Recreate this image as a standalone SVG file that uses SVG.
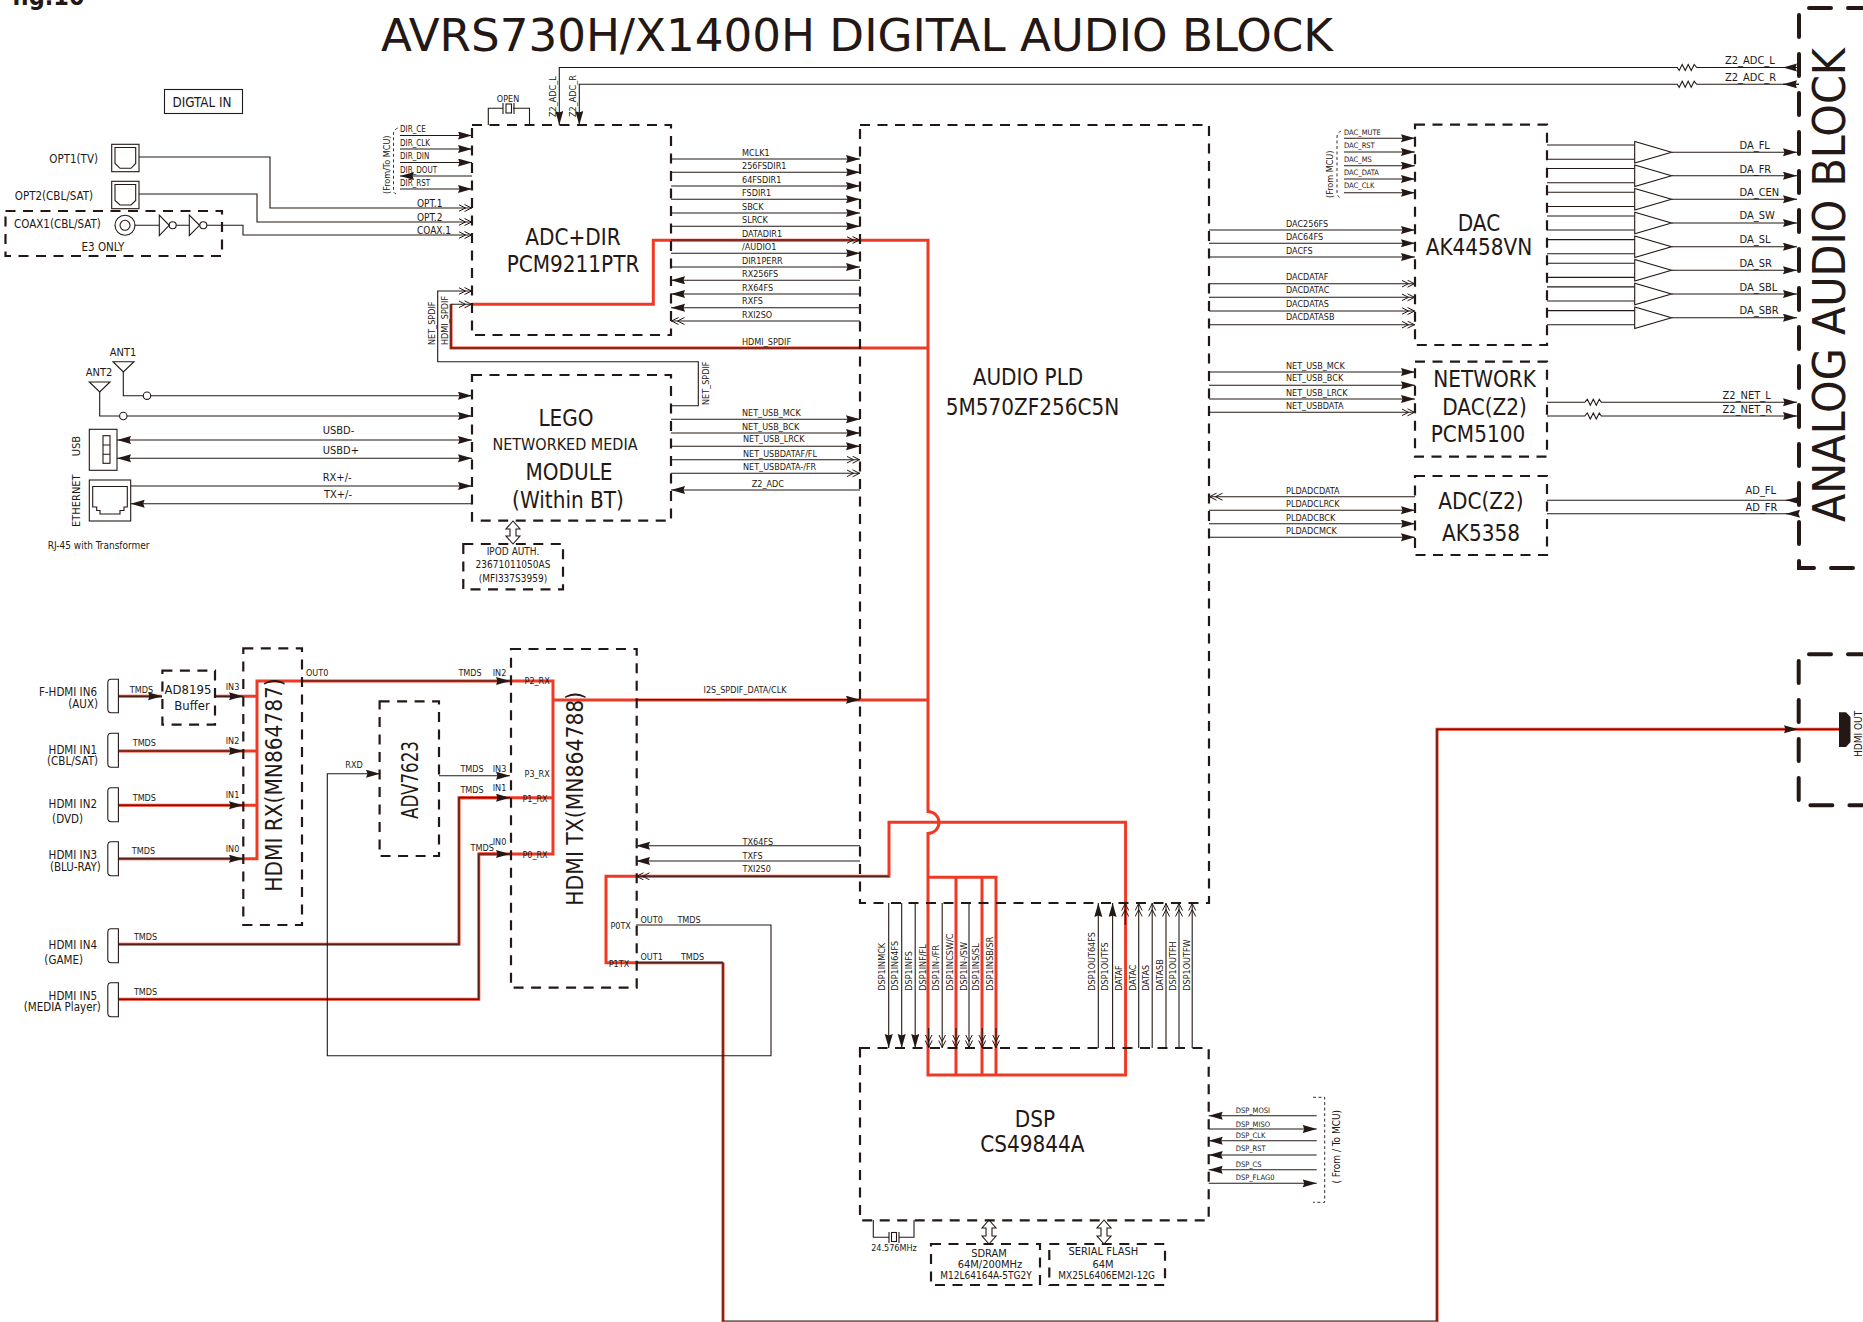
<svg xmlns="http://www.w3.org/2000/svg" width="1863" height="1322" viewBox="0 0 1863 1322">
<style>
text{font-family:"DejaVu Sans Condensed","DejaVu Sans","Liberation Sans",sans-serif;fill:#231815;stroke:none}
.m{text-anchor:middle}.e{text-anchor:end}
.s75{font-size:7.5px}.s8{font-size:8px}.s9{font-size:9px}.s10{font-size:10px}.s11{font-size:11px}.s115{font-size:11.5px}.s13{font-size:13.3px}.s14{font-size:13px}.s16{font-size:16px}.s22{font-size:22.3px}.s45{font-size:45px}
path,rect,circle,polygon{fill:none;stroke:#231815;stroke-width:1.1}
.box{stroke-width:2.2;stroke-dasharray:10 7.5}
.big{stroke-width:4;stroke-dasharray:22 17;stroke-linecap:round}
.thin{stroke-width:.9;stroke-dasharray:3 2.5}
.red{stroke:#ee3a24;stroke-width:3}
.rs{stroke:#ee3a24;stroke-width:3}
.a{marker-end:url(#ah)}.d{marker-end:url(#dh)}.b{marker-start:url(#ahr);marker-end:url(#ah)}
.fk{fill:#231815}
</style>
<defs>
<marker id="ah" markerUnits="userSpaceOnUse" markerWidth="15" markerHeight="9" refX="14" refY="4" orient="auto"><path d="M0,0L14,4L0,8L1.5,4Z" style="fill:#231815;stroke:none"/></marker>
<marker id="ahr" markerUnits="userSpaceOnUse" markerWidth="15" markerHeight="9" refX="0" refY="4" orient="auto"><path d="M14,0L0,4L14,8L12.5,4Z" style="fill:#231815;stroke:none"/></marker>
<marker id="dh" markerUnits="userSpaceOnUse" markerWidth="15" markerHeight="9" refX="13.5" refY="4" orient="auto"><path d="M0,.5L7,4L0,7.5M6,.5L13,4L6,7.5" style="fill:none;stroke:#231815;stroke-width:1"/></marker>
</defs>
<rect width="1863" height="1322" style="fill:#fff;stroke:none"/>

<text x="12" y="5" style="font-size:25px;font-weight:bold">fig.10</text>
<text id="title" x="381" y="50.5" class="s45" textLength="952" lengthAdjust="spacingAndGlyphs">AVRS730H/X1400H DIGITAL AUDIO BLOCK</text>

<g id="connectors">
<!-- red paths -->
<path class="red" d="M472,304.3H653.3V240.3H928V811.5A11,11 0 0 1 928,833.5V1075H1125.6V822.3H889V876.3H606V962.7H723"/>
<path class="red" d="M451,304.3V348H928"/>
<path class="red" d="M928,877.3H996V1075M956,877.3V1075M982,877.3V1075"/>
<path class="red" d="M118.4,696.3H162M215,696.3H257M118.4,751H257M118.4,805.3H257M118.4,858.7H257V681H553V854H478.8M553,700H928M459,797.7H553"/>
<path class="rs" d="M118.4,944.3H459V797.7H500M118.4,999.3H478.8V854H500M723,962.7V1322M1437,1322V729.3H1839"/>
<path d="M723,1321.5H1437" style="stroke:#f2b0a5;stroke-width:1"/>

<!-- digital in -->
<path class="d" d="M139,157H270V208H472"/>
<path class="d" d="M139,194H257V222H472"/>
<path class="d" d="M207,225.3H243V235H472"/>
<path class="a" d="M400,135.5H472"/><path class="a" d="M400,149H472"/><path class="a" d="M400,162.5H472"/><path class="a" d="M472,176H400"/><path class="a" d="M400,189H472"/>
<path class="thin" d="M397.7,128Q393.5,130 393.5,134V190Q393.5,193 396,194"/>
<path class="d" d="M671,405.7H698.3V361.7H437.7V291H472"/>
<path class="d" d="M860,348H451V304.3H472"/>
<!-- Z2 ADC -->
<path class="a" d="M1799,67.5H1696.7l-2.5,-3 -3,6 -3,-6 -3,6 -3,-6 -3,6 -2,-3H559.3V125"/>
<path class="a" d="M1799,84.3H1696.7l-2.5,-3 -3,6 -3,-6 -3,6 -3,-6 -3,6 -2,-3H579.3V125"/>
<path class="a" d="M1799,67.5H1783"/><path class="a" d="M1799,84.3H1783"/>
<path d="M488.3,125V108.3H503M513,108.3H529.5V125"/>
<!-- ADC to PLD -->
<path class="a" d="M671,159H860"/><path class="a" d="M671,172.3H860"/><path class="a" d="M671,186H860"/><path class="a" d="M671,199.3H860"/><path class="a" d="M671,213H860"/><path class="a" d="M671,226.3H860"/>
<path class="d" d="M671,240H860"/><path class="a" d="M671,253.3H860"/><path class="a" d="M671,267H860"/>
<path class="a" d="M860,280.3H671"/><path class="a" d="M860,294H671"/><path class="a" d="M860,307.7H671"/><path class="d" d="M860,321H671"/>
<!-- LEGO left -->
<path class="a" d="M123.3,372V395.7H472"/>
<path class="a" d="M99.7,392V416H472"/>
<path class="b" d="M117,440H472"/><path class="b" d="M117,458.3H472"/>
<path class="a" d="M130.7,486H472"/><path class="a" d="M472,503.7H130.7"/>
<!-- LEGO right -->
<path class="a" d="M671,419.3H860"/><path class="a" d="M671,433H860"/><path class="a" d="M671,446.3H860"/><path class="d" d="M671,459.7H860"/><path class="d" d="M671,473.3H860"/><path class="a" d="M860,490H671"/>
<!-- double block arrows -->
<path d="M513,521L506,529H510V536H506L513,544L520,536H516V529H520Z"/>
<path d="M989,1220L982,1228H986V1236H982L989,1244L996,1236H992V1228H996Z"/>
<path d="M1104,1220L1097,1228H1101V1236H1097L1104,1244L1111,1236H1107V1228H1111Z"/>
<!-- DAC inputs -->
<path class="a" d="M1344,138.3H1415"/><path class="a" d="M1344,152H1415"/><path class="a" d="M1344,165.7H1415"/><path class="a" d="M1344,179H1415"/><path class="a" d="M1344,192.7H1415"/>
<path class="thin" d="M1341,131Q1337,133 1337,137V192Q1337,196 1340,198"/>
<path class="a" d="M1209,230H1415"/><path class="a" d="M1209,243.3H1415"/><path class="a" d="M1209,257H1415"/>
<path class="d" d="M1209,283.7H1415"/><path class="d" d="M1209,297.3H1415"/><path class="d" d="M1209,311H1415"/><path class="d" d="M1209,324.7H1415"/>
<!-- DAC outputs -->
<path d="M1547,145H1634.7M1547,159.3H1634.7M1547,168.5H1634.7M1547,182.8H1634.7M1547,192.2H1634.7M1547,206.5H1634.7M1547,216H1634.7M1547,230H1634.7M1547,239.6H1634.7M1547,253.8H1634.7M1547,263.2H1634.7M1547,277.4H1634.7M1547,286.9H1634.7M1547,301H1634.7M1547,310.6H1634.7M1547,324.8H1634.7"/>
<path class="a" d="M1671.5,152.3H1797"/><path class="a" d="M1671.5,175.7H1797"/><path class="a" d="M1671.5,199.3H1797"/><path class="a" d="M1671.5,223H1797"/><path class="a" d="M1671.5,246.7H1797"/><path class="a" d="M1671.5,270.3H1797"/><path class="a" d="M1671.5,294H1797"/><path class="a" d="M1671.5,317.7H1797"/>
<!-- network DAC -->
<path class="a" d="M1209,372H1415"/><path class="a" d="M1209,385.3H1415"/><path class="a" d="M1209,399H1415"/><path class="d" d="M1209,412.3H1415"/>
<path class="a" d="M1547,402.3H1584.8l2.5,-3 3,6 3,-6 3,6 3,-6 2,3H1797"/>
<path class="a" d="M1547,416H1584.8l2.5,-3 3,6 3,-6 3,6 3,-6 2,3H1797"/>
<!-- ADC Z2 -->
<path class="d" d="M1415,496.7H1209"/><path class="a" d="M1209,510.3H1415"/><path class="a" d="M1209,523.7H1415"/><path class="a" d="M1209,537.3H1415"/>
<path d="M1547,500.3H1798M1547,513.7H1798"/><path class="a" d="M1798,500.3H1786"/><path class="a" d="M1798,513.7H1786"/>
<!-- HDMI -->
<path class="a" d="M118.4,696.3H162"/><path class="a" d="M215,696.3H243"/>
<path class="a" d="M118.4,751H243"/><path class="a" d="M118.4,805.3H243"/><path class="a" d="M118.4,858.7H243"/>
<path class="a" d="M302,681H510"/>
<path class="a" d="M439,775.7H510"/>
<path class="a" d="M118.4,944.3H459V797.7H510"/>
<path class="a" d="M118.4,999.3H478.8V854H510"/>
<path class="a" d="M636,699.7H860"/>
<path class="a" d="M860,845.7H636"/><path class="a" d="M860,861H636"/><path class="d" d="M889,876.3H636"/>
<path class="a" d="M636,925H771V1055.7H327.3V773.7H380"/>
<path class="a" d="M636,962.7H723V1321H1437V729.3H1798"/>
<path d="M1798,729.3H1839"/>
<!-- DSP bus -->
<path class="a" d="M888.7,903V1048"/><path class="a" d="M901.7,903V1048"/><path class="a" d="M915.2,903V1048"/><path class="d" d="M942.2,903V1048"/><path class="d" d="M969,903V1048"/>
<path class="d" d="M928.7,1028V1048"/><path class="d" d="M956,1028V1048"/><path class="d" d="M982.2,1028V1048"/><path class="d" d="M996,1028V1048"/>
<path class="a" d="M1098.3,1048V903"/><path class="a" d="M1112.6,1048V903"/><path class="d" d="M1125.2,925V903"/><path class="d" d="M1138.7,1048V903"/><path class="d" d="M1152.2,1048V903"/><path class="d" d="M1166,1048V903"/><path class="d" d="M1179,1048V903"/><path class="d" d="M1192.2,1048V903"/>
<!-- DSP MCU -->
<path class="a" d="M1316.7,1115.7H1208.7"/><path class="a" d="M1208.7,1129H1316.7"/><path class="a" d="M1316.7,1140.7H1208.7"/><path class="a" d="M1316.7,1155H1208.7"/><path class="a" d="M1316.7,1169.7H1208.7"/><path class="a" d="M1208.7,1183.3H1316.7"/>
<path class="thin" d="M1313,1097.3H1324.7V1202.3H1313"/>
<path d="M873.3,1220V1237.3H889M899,1237.3H914V1220"/>

<!-- connector labels -->
<g class="s8"><text x="400" y="132">DIR_CE</text><text x="400" y="145.5">DIR_CLK</text><text x="400" y="159">DIR_DIN</text><text x="400" y="172.5">DIR_DOUT</text><text x="400" y="186">DIR_RST</text></g>
<text class="s9" transform="rotate(-90 390 194)" x="390" y="194">(From/To MCU)</text>
<g class="s10"><text x="417" y="207">OPT.1</text><text x="417" y="221">OPT.2</text><text x="417" y="234">COAX.1</text></g>
<g class="s9">
<text transform="rotate(-90 435 345)" x="435" y="345">NET_SPDIF</text>
<text transform="rotate(-90 448 345)" x="448" y="345">HDMI_SPDIF</text>
<text transform="rotate(-90 708.5 405)" x="708.5" y="405">NET_SPDIF</text>
<text transform="rotate(-90 555.5 117)" x="555.5" y="117">Z2_ADC_L</text>
<text transform="rotate(-90 575.5 117)" x="575.5" y="117">Z2_ADC_R</text>
<text class="m" x="508" y="102">OPEN</text>
<text x="742" y="155.7">MCLK1</text><text x="742" y="169">256FSDIR1</text><text x="742" y="183">64FSDIR1</text><text x="742" y="196">FSDIR1</text><text x="742" y="210">SBCK</text><text x="742" y="223">SLRCK</text><text x="742" y="237">DATADIR1</text><text x="742" y="250">/AUDIO1</text><text x="742" y="264">DIR1PERR</text><text x="742" y="277">RX256FS</text><text x="742" y="291">RX64FS</text><text x="742" y="304">RXFS</text><text x="742" y="318">RXI2SO</text>
<text x="742" y="345">HDMI_SPDIF</text>
<text x="742" y="416">NET_USB_MCK</text><text x="742" y="430">NET_USB_BCK</text><text x="743" y="442">NET_USB_LRCK</text><text x="743" y="456.7">NET_USBDATAF/FL</text><text x="743" y="470">NET_USBDATA-/FR</text><text x="751.7" y="487">Z2_ADC</text>
<text x="1286" y="227">DAC256FS</text><text x="1286" y="240">DAC64FS</text><text x="1286" y="253.7">DACFS</text><text x="1286" y="280.3">DACDATAF</text><text x="1286" y="293.3">DACDATAC</text><text x="1286" y="307.3">DACDATAS</text><text x="1286" y="320.3">DACDATASB</text>
<text x="1286" y="368.7">NET_USB_MCK</text><text x="1286" y="381.3">NET_USB_BCK</text><text x="1286" y="395.7">NET_USB_LRCK</text><text x="1286" y="409">NET_USBDATA</text>
<text x="1286" y="494">PLDADCDATA</text><text x="1286" y="507">PLDADCLRCK</text><text x="1286" y="521">PLDADCBCK</text><text x="1286" y="533.7">PLDADCMCK</text>
<text x="129.8" y="693.3">TMDS</text><text x="132.7" y="746">TMDS</text><text x="132.7" y="801">TMDS</text><text x="131.8" y="854">TMDS</text><text x="133.9" y="940">TMDS</text><text x="133.9" y="995.3">TMDS</text>
<text x="225.7" y="690">IN3</text><text x="225.7" y="744">IN2</text><text x="225.7" y="798.3">IN1</text><text x="225.7" y="852">IN0</text>
<text x="306" y="675.7">OUT0</text><text x="458.4" y="675.7">TMDS</text><text x="492.7" y="675.7">IN2</text>
<text x="460.4" y="771.7">TMDS</text><text x="492.7" y="771.7">IN3</text><text x="460.4" y="793">TMDS</text><text x="492.7" y="790.7">IN1</text><text x="470.6" y="850.7">TMDS</text><text x="492.7" y="845">IN0</text>
<text x="345.3" y="767.7">RXD</text>
<text x="703.5" y="692.7">I2S_SPDIF_DATA/CLK</text>
<text x="742.6" y="844.7">TX64FS</text><text x="742.6" y="859">TXFS</text><text x="742.6" y="872">TXI2S0</text>
<text x="640.4" y="922.7">OUT0</text><text x="677.4" y="922.7">TMDS</text><text x="640.4" y="960">OUT1</text><text x="680.9" y="960">TMDS</text>
<text transform="rotate(-90 885.3 990.7)" x="885.3" y="990.7">DSP1INMCK</text>
<text transform="rotate(-90 898.2 990.7)" x="898.2" y="990.7">DSP1IN64FS</text>
<text transform="rotate(-90 911.7 990.7)" x="911.7" y="990.7">DSP1INFS</text>
<text transform="rotate(-90 926 990.7)" x="926" y="990.7">DSP1INF/FL</text>
<text transform="rotate(-90 938.6 990.7)" x="938.6" y="990.7">DSP1IN-/FR</text>
<text transform="rotate(-90 953 990.7)" x="953" y="990.7">DSP1INCSW/C</text>
<text transform="rotate(-90 966.9 990.7)" x="966.9" y="990.7">DSP1IN-/SW</text>
<text transform="rotate(-90 979.4 990.7)" x="979.4" y="990.7">DSP1INS/SL</text>
<text transform="rotate(-90 993 990.7)" x="993" y="990.7">DSP1INSB/SR</text>
<text transform="rotate(-90 1094.7 990.7)" x="1094.7" y="990.7">DSP1OUT64FS</text>
<text transform="rotate(-90 1107.7 990.7)" x="1107.7" y="990.7">DSP1OUTFS</text>
<text transform="rotate(-90 1122.1 990.7)" x="1122.1" y="990.7">DATAF</text>
<text transform="rotate(-90 1135.6 990.7)" x="1135.6" y="990.7">DATAC</text>
<text transform="rotate(-90 1149.1 990.7)" x="1149.1" y="990.7">DATAS</text>
<text transform="rotate(-90 1163.4 990.7)" x="1163.4" y="990.7">DATASB</text>
<text transform="rotate(-90 1176.4 990.7)" x="1176.4" y="990.7">DSP1OUTFH</text>
<text transform="rotate(-90 1189.9 990.7)" x="1189.9" y="990.7">DSP1OUTFW</text>
</g>
<g class="s75">
<text x="1344" y="134.7">DAC_MUTE</text><text x="1344" y="147.7">DAC_RST</text><text x="1344" y="161.7">DAC_MS</text><text x="1344" y="175">DAC_DATA</text><text x="1344" y="188">DAC_CLK</text>
<text x="1235.7" y="1112.7">DSP_MOSI</text><text x="1235.7" y="1126.7">DSP_MISO</text><text x="1235.7" y="1137.7">DSP_CLK</text><text x="1235.7" y="1150.7">DSP_RST</text><text x="1235.7" y="1166.7">DSP_CS</text><text x="1235.7" y="1179.7">DSP_FLAG0</text>
</g>
<text class="s9" transform="rotate(-90 1333 198)" x="1333" y="198">(From MCU)</text>
<text class="s10 m" transform="rotate(-90 1340 1146.7)" x="1340" y="1146.7">( From / To MCU)</text>
<g class="s11">
<text x="322.7" y="434">USBD-</text><text x="322.7" y="454">USBD+</text><text x="322.7" y="480.7">RX+/-</text><text x="324" y="498">TX+/-</text>
<text x="1739.5" y="149.3">DA_FL</text><text x="1739.5" y="172.7">DA_FR</text><text x="1739.5" y="196">DA_CEN</text><text x="1739.5" y="219.3">DA_SW</text><text x="1739.5" y="243.3">DA_SL</text><text x="1739.5" y="266.7">DA_SR</text><text x="1739.5" y="290.7">DA_SBL</text><text x="1739.5" y="314.3">DA_SBR</text>
<text x="1722.6" y="399">Z2_NET_L</text><text x="1722.6" y="412.7">Z2_NET_R</text>
<text x="1745.5" y="494">AD_FL</text><text x="1745.5" y="510.7">AD_FR</text>
<text x="1725" y="64">Z2_ADC_L</text><text x="1725" y="81">Z2_ADC_R</text>
</g>
</g>

<g id="digital-in-label"><rect x="164.5" y="89.5" width="78" height="24"/><text class="s13 m" x="202" y="106.5">DIGTAL IN</text></g>

<g id="opt1"><text class="s115 e" x="98" y="162.5">OPT1(TV)</text><rect x="111.7" y="144.3" width="27.3" height="27.4"/><path d="M115,147.5H135.7V163.5L131,168.3H120L115,163.5Z"/></g>
<g id="opt2"><text class="s115 e" x="93" y="200">OPT2(CBL/SAT)</text><rect x="111.7" y="181.3" width="27.3" height="27.4"/><path d="M115,184.5H135.7V200.5L131,205H120L115,200.5Z"/></g>
<g id="coax1">
<path class="box" d="M5.5,211H222V256H5.5Z"/>
<text class="s115" x="14" y="228">COAX1(CBL/SAT)</text><text class="s115 m" x="103" y="251">E3 ONLY</text>
<circle cx="125" cy="225.3" r="10"/><circle cx="125" cy="225.3" r="5"/>
<path d="M135,225.3H159.3M176.2,225.3H189.3M159.3,215V235.7L169.2,225.3ZM189.3,215V235.7L199.5,225.3Z"/>
<circle cx="172.7" cy="225.3" r="3.5"/><circle cx="203.3" cy="225.3" r="3.5"/>
</g>

<g id="adc-dir">
<rect class="box" x="472" y="125" width="199" height="210"/>
<rect x="506" y="104" width="5.5" height="9"/><path d="M503,103V114M514,103V114"/>
<text class="s22 m" x="573" y="245">ADC+DIR</text><text class="s22 m" x="573" y="272">PCM9211PTR</text>
</g>
<g id="lego">
<rect class="box" x="472" y="375" width="199" height="145.7"/>
<text class="s22 m" x="566" y="425.5">LEGO</text><text class="s16 m" x="565" y="449.5">NETWORKED MEDIA</text><text class="s22 m" x="569" y="480">MODULE</text><text class="s22 m" x="568" y="507.5">(Within BT)</text>
</g>
<g id="ipod-auth">
<rect class="box" x="463.3" y="544" width="99.7" height="45.3"/>
<text class="s10 m" x="513" y="555">IPOD AUTH.</text><text class="s10 m" x="513" y="568">23671011050AS</text><text class="s10 m" x="513" y="582">(MFI337S3959)</text>
</g>
<g id="ant1"><text class="s11 m" x="123" y="356">ANT1</text><path d="M113,361.7H134L123.3,372Z"/><circle cx="147" cy="395.7" r="3.7" style="fill:#fff"/></g>
<g id="ant2"><text class="s11 m" x="99" y="376">ANT2</text><path d="M89.3,382H110L99.7,392Z"/><circle cx="123.3" cy="416" r="3.7" style="fill:#fff"/></g>
<g id="usb"><rect x="89.3" y="429.3" width="27.7" height="41" style="fill:#fff"/><rect x="103" y="435.7" width="7" height="27.6"/><path d="M103,445H110M103,454.3H110"/><text class="s11 m" transform="rotate(-90 80 446)" x="80" y="446">USB</text></g>
<g id="ethernet"><rect x="89.3" y="480" width="41.4" height="41" style="fill:#fff"/><path d="M92.7,486.5H127.3V507H124V510.5H120V514H100V510.5H96.7V507H92.7Z"/><text class="s11 m" transform="rotate(-90 80 500.7)" x="80" y="500.7">ETHERNET</text></g>
<text id="rj45-note" class="s10" x="47.7" y="548.7">RJ-45 with Transformer</text>

<g id="audio-pld">
<rect class="box" x="860" y="125" width="349" height="778"/>
<text class="s22 m" x="1028" y="384.5">AUDIO PLD</text><text class="s22 m" x="1032.5" y="414.5">5M570ZF256C5N</text>
</g>
<g id="dac">
<rect class="box" x="1415" y="124.7" width="132" height="220.3"/>
<text class="s22 m" x="1479" y="231">DAC</text><text class="s22 m" x="1479" y="255">AK4458VN</text>
</g>
<g id="network-dac">
<rect class="box" x="1415" y="361.7" width="132" height="95"/>
<text class="s22 m" x="1484.6" y="387">NETWORK</text><text class="s22 m" x="1484.6" y="415">DAC(Z2)</text><text class="s22 m" x="1478" y="442">PCM5100</text>
</g>
<g id="adc-z2">
<rect class="box" x="1415" y="476" width="132" height="79"/>
<text class="s22 m" x="1481" y="509">ADC(Z2)</text><text class="s22 m" x="1481" y="541">AK5358</text>
</g>
<g id="amps">
<path style="fill:#fff" d="M1634.7,141.5V163.1L1671.5,152.3ZM1634.7,164.9V186.5L1671.5,175.7ZM1634.7,188.5V210.1L1671.5,199.3ZM1634.7,212.2V233.8L1671.5,223ZM1634.7,235.9V257.5L1671.5,246.7ZM1634.7,259.5V281.1L1671.5,270.3ZM1634.7,283.2V304.8L1671.5,294ZM1634.7,306.9V328.5L1671.5,317.7Z"/>
</g>
<g id="analog-audio-block">
<path class="big" d="M1870,8H1799V568H1870"/>
<text class="s45" transform="rotate(-90 1845 522)" x="1845" y="522" textLength="474" lengthAdjust="spacingAndGlyphs">ANALOG AUDIO BLOCK</text>
</g>
<g id="hdmi-out">
<path class="big" d="M1870,654.3H1798.7V805.3H1870"/>
<path class="fk" style="stroke:none" d="M1839,712.3H1846L1850.5,717V742L1846,747H1839Z"/>
<text class="s10" transform="rotate(-90 1862 757)" x="1862" y="757">HDMI OUT</text>
</g>

<g id="hdmi-in6"><path d="M118.4,679.3H111Q107.8,679.3 107.8,683V709Q107.8,712.7 111,712.7H118.4Z"/><text class="s115 e" x="97" y="696">F-HDMI IN6</text><text class="s115 e" x="98" y="708">(AUX)</text></g>
<g id="hdmi-in1"><path d="M118.4,733.3H111Q107.8,733.3 107.8,737V763.6Q107.8,767.3 111,767.3H118.4Z"/><text class="s115 e" x="97" y="753.5">HDMI IN1</text><text class="s115 e" x="98" y="765">(CBL/SAT)</text></g>
<g id="hdmi-in2"><path d="M118.4,787.7H111Q107.8,787.7 107.8,791.4V818Q107.8,821.7 111,821.7H118.4Z"/><text class="s115 e" x="97" y="807.5">HDMI IN2</text><text class="s115 e" x="83" y="823">(DVD)</text></g>
<g id="hdmi-in3"><path d="M118.4,841.7H111Q107.8,841.7 107.8,845.4V872Q107.8,875.7 111,875.7H118.4Z"/><text class="s115 e" x="97" y="858.5">HDMI IN3</text><text class="s115 e" x="100.8" y="871">(BLU-RAY)</text></g>
<g id="hdmi-in4"><path d="M118.4,928.7H111Q107.8,928.7 107.8,932.4V959Q107.8,962.7 111,962.7H118.4Z"/><text class="s115 e" x="97" y="948.5">HDMI IN4</text><text class="s115 e" x="83" y="964">(GAME)</text></g>
<g id="hdmi-in5"><path d="M118.4,982.7H111Q107.8,982.7 107.8,986.4V1013Q107.8,1016.7 111,1016.7H118.4Z"/><text class="s115 e" x="97" y="999.5">HDMI IN5</text><text class="s115 e" x="100.8" y="1011">(MEDIA Player)</text></g>

<g id="ad8195"><rect class="box" x="162.4" y="670.7" width="52.6" height="54"/><text class="s14 m" x="188" y="693.5">AD8195</text><text class="s14 m" x="192" y="709.5">Buffer</text></g>
<g id="hdmi-rx"><rect class="box" x="243.3" y="648.3" width="58.7" height="276.7"/><text class="s22" transform="rotate(-90 281.6 891.7)" x="281.6" y="891.7" textLength="213.4" lengthAdjust="spacingAndGlyphs">HDMI RX(MN864787)</text></g>
<g id="adv7623"><rect class="box" x="379.6" y="701.3" width="59.4" height="154.7"/><text class="s22" transform="rotate(-90 417.5 819)" x="417.5" y="819" textLength="78" lengthAdjust="spacingAndGlyphs">ADV7623</text></g>
<g id="hdmi-tx">
<rect class="box" x="511" y="649" width="125.7" height="338.7"/>
<text class="s22" transform="rotate(-90 582.9 905.7)" x="582.9" y="905.7" textLength="214" lengthAdjust="spacingAndGlyphs">HDMI TX(MN864788)</text>
<g class="s9"><text x="524.5" y="684.3">P2_RX</text><text x="524.5" y="776.7">P3_RX</text><text x="522.4" y="801.7">P1_RX</text><text x="522.4" y="858">P0_RX</text><text x="610.4" y="928.7">P0TX</text><text x="608.7" y="966.7">P1TX</text></g>
</g>
<g id="dsp">
<rect class="box" x="860" y="1048" width="348.7" height="172.3"/>
<text class="s22 m" x="1035" y="1127">DSP</text><text class="s22 m" x="1032.3" y="1152">CS49844A</text>
<rect x="891.5" y="1232.5" width="5" height="9"/><path d="M889,1232V1243M899,1232V1243"/>
<text class="s9 m" x="894" y="1250.7">24.576MHz</text>
</g>
<g id="sdram"><rect class="box" x="931" y="1244" width="109" height="41"/><text class="s11 m" x="989" y="1256.7">SDRAM</text><text class="s11 m" x="990" y="1268.3">64M/200MHz</text><text class="s10 m" x="986" y="1278.7">M12L64164A-5TG2Y</text></g>
<g id="serial-flash"><rect class="box" x="1049.3" y="1244" width="115.7" height="41"/><text class="s11 m" x="1103.3" y="1254.7">SERIAL FLASH</text><text class="s11 m" x="1103" y="1268.3">64M</text><text class="s10 m" x="1106.7" y="1278.7">MX25L6406EM2I-12G</text></g>
</svg>
